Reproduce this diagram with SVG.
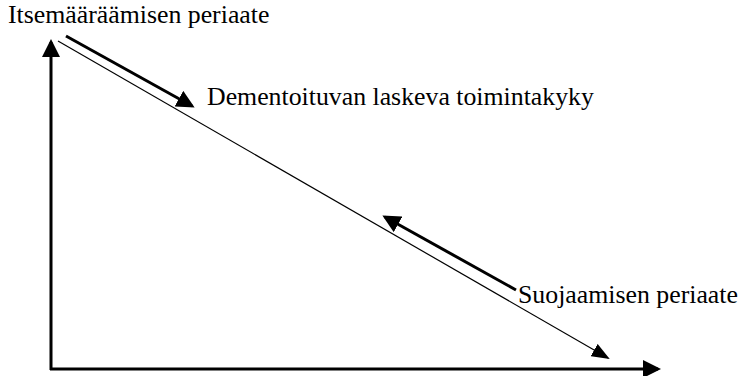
<svg xmlns="http://www.w3.org/2000/svg" width="740" height="376" viewBox="0 0 740 376">
<style>
text{font-family:"Liberation Serif","Times New Roman",serif;font-size:25.8px;fill:#000}
.axis{stroke:#000;stroke-width:3;fill:none}
.thin{stroke:#000;stroke-width:1.2;fill:none}
.thick{stroke:#000;stroke-width:3;fill:none}
</style>
<defs>
<marker id="ah" markerWidth="6" markerHeight="6" refX="5" refY="3" orient="auto" markerUnits="strokeWidth"><path d="M0,0 L6,3 L0,6 Z" fill="#000"/></marker>
<marker id="ahThin" markerWidth="18" markerHeight="14" refX="16" refY="7" orient="auto" markerUnits="userSpaceOnUse"><path d="M0,0 L18,7 L0,14 Z" fill="#000"/></marker>
</defs>
<g id="connectors">
<line class="axis" x1="51" y1="370" x2="51" y2="42" marker-end="url(#ah)"/>
<line class="axis" x1="50" y1="369" x2="658" y2="369" marker-end="url(#ah)"/>
<line class="thin" x1="58" y1="41" x2="608" y2="358" marker-end="url(#ahThin)"/>
<line class="thick" x1="66" y1="36" x2="192" y2="106" marker-end="url(#ah)"/>
<line class="thick" x1="516" y1="290" x2="385" y2="217" marker-end="url(#ah)"/>
</g>
<g id="label-itse"><text x="8" y="23">Itsemääräämisen periaate</text></g>
<g id="label-dementoituvan"><text x="207" y="105">Dementoituvan laskeva toimintakyky</text></g>
<g id="label-suojaamisen"><text x="518" y="303">Suojaamisen periaate</text></g>
</svg>
